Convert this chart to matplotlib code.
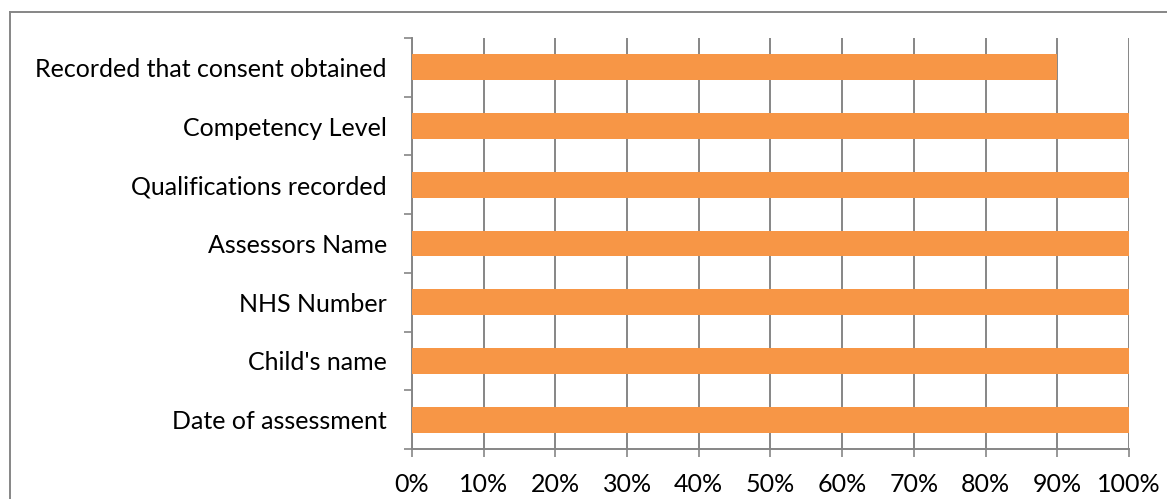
import numpy as np
import matplotlib.pyplot as plt
from matplotlib.lines import Line2D
from matplotlib.ticker import FuncFormatter

categories = ["Date of assessment", "Child's name", "NHS Number", "Assessors Name",
              "Qualifications recorded", "Competency Level", "Recorded that consent obtained"]
values = [100, 100, 100, 100, 100, 100, 90]

orange = "#F79646"
grey = "#868686"

plt.rcParams['font.family'] = ['Lato', 'DejaVu Sans']

fig = plt.figure(figsize=(11.67, 4.99), dpi=100)
ax = fig.add_axes([0.353, 0.1002, 0.6144, 0.8236])

y = np.arange(len(categories))
ax.barh(y, values, height=0.44, color=orange, zorder=3)

ax.set_xlim(0, 100)
ax.set_ylim(-0.5, len(categories) - 0.5)
ax.set_xticks(np.arange(0, 101, 10))
ax.xaxis.set_major_formatter(FuncFormatter(lambda v, p: f"{int(v)}%"))
ax.set_yticks(y)
ax.set_yticklabels(categories)
ax.set_yticks(np.arange(-0.5, len(categories), 1), minor=True)

ax.tick_params(axis='y', which='major', length=0, pad=18, labelsize=18)
ax.tick_params(axis='y', which='minor', length=6, width=1.2, color=grey, direction='out')
ax.tick_params(axis='x', length=6, width=1.2, color=grey, pad=11, labelsize=18)

ax.grid(axis='x', color=grey, linewidth=1.4, zorder=0)
for s in ['top', 'right']:
    ax.spines[s].set_visible(False)
for s in ['left', 'bottom']:
    ax.spines[s].set_color(grey)
    ax.spines[s].set_linewidth(1.4)

# outer frame of the chart area (top and left edges only)
fig.add_artist(Line2D([10 / 1167, 1.0], [1 - 12 / 499] * 2, color=grey, lw=1.4, transform=fig.transFigure))
fig.add_artist(Line2D([10 / 1167] * 2, [0.0, 1 - 12 / 499], color=grey, lw=1.4, transform=fig.transFigure))

fig.savefig("out.png", dpi=100)
